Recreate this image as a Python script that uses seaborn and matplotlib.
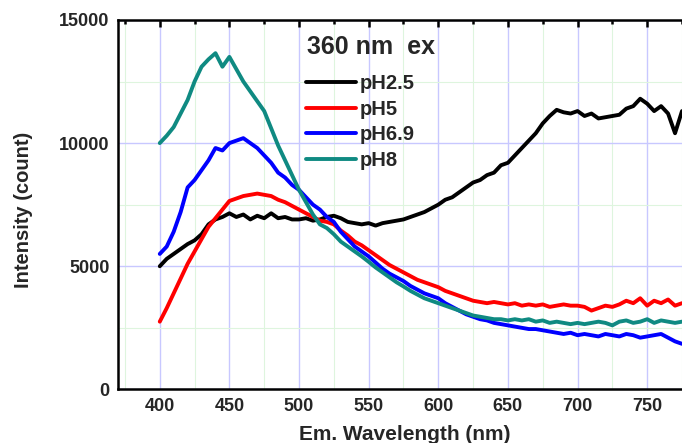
import numpy as np
import pandas as pd
import matplotlib
matplotlib.use("Agg")
import matplotlib.pyplot as plt
from matplotlib.ticker import MultipleLocator
import seaborn as sns

wavelength = list(range(400, 780, 5))

ph25 = [5000, 5300, 5500, 5700, 5900, 6050, 6300, 6700, 6900, 7000,
        7150, 7000, 7100, 6900, 7050, 6950, 7150, 6950, 7000, 6900,
        6900, 6950, 6850, 6900, 7000, 7050, 6950, 6800, 6750, 6700,
        6750, 6650, 6750, 6800, 6850, 6900, 7000, 7100, 7200, 7350,
        7500, 7700, 7800, 8000, 8200, 8400, 8500, 8700, 8800, 9100,
        9200, 9500, 9800, 10100, 10400, 10800, 11100, 11350, 11250, 11200,
        11300, 11100, 11200, 11000, 11050, 11100, 11150, 11400, 11500, 11800,
        11600, 11300, 11500, 11200, 10400, 11300]

ph5 = [2750, 3300, 3900, 4500, 5100, 5600, 6100, 6600, 6950, 7300,
       7650, 7750, 7850, 7900, 7950, 7900, 7850, 7700, 7600, 7450,
       7300, 7150, 7000, 6850, 6800, 6700, 6450, 6250, 6000, 5850,
       5650, 5450, 5250, 5050, 4900, 4750, 4600, 4450, 4350, 4250,
       4150, 4000, 3900, 3800, 3700, 3600, 3550, 3500, 3550, 3500,
       3450, 3500, 3400, 3450, 3400, 3450, 3350, 3400, 3450, 3400,
       3400, 3350, 3200, 3300, 3400, 3350, 3450, 3600, 3500, 3700,
       3400, 3600, 3500, 3650, 3400, 3500]

ph69 = [5500, 5800, 6400, 7200, 8200, 8500, 8900, 9300, 9800, 9700,
        10000, 10100, 10200, 10000, 9800, 9500, 9200, 8800, 8600, 8300,
        8100, 7800, 7500, 7300, 7000, 6800, 6400, 6100, 5800, 5600,
        5400, 5150, 4900, 4700, 4550, 4400, 4200, 4050, 3900, 3800,
        3700, 3500, 3350, 3200, 3050, 2950, 2850, 2800, 2700, 2650,
        2600, 2550, 2500, 2450, 2450, 2400, 2350, 2300, 2250, 2300,
        2200, 2250, 2200, 2150, 2250, 2200, 2150, 2250, 2200, 2100,
        2150, 2200, 2250, 2100, 1950, 1850]

ph8 = [10000, 10300, 10650, 11200, 11750, 12500, 13100, 13400, 13650, 13100,
       13500, 13000, 12500, 12100, 11700, 11300, 10600, 9900, 9300, 8700,
       8100, 7600, 7100, 6700, 6550, 6300, 6000, 5800, 5600, 5400,
       5180, 4950, 4750, 4550, 4350, 4180, 4000, 3850, 3700, 3600,
       3500, 3400, 3300, 3200, 3100, 3000, 2950, 2900, 2850, 2850,
       2800, 2850, 2800, 2850, 2750, 2800, 2700, 2750, 2700, 2650,
       2700, 2650, 2700, 2750, 2700, 2600, 2750, 2800, 2700, 2750,
       2850, 2700, 2800, 2750, 2700, 2750]

series_names = ["pH2.5", "pH5", "pH6.9", "pH8"]
series_values = [ph25, ph5, ph69, ph8]
colors = ["#000000", "#ff0000", "#0000ff", "#0f8a82"]
x_ticks = [400, 450, 500, 550, 600, 650, 700, 750]
y_ticks = [0, 5000, 10000, 15000]

df = pd.concat([pd.DataFrame({"wl": wavelength, "I": v, "s": n})
                for n, v in zip(series_names, series_values)], ignore_index=True)

sns.set_style("white")
plt.rcParams["font.family"] = ["Liberation Sans", "DejaVu Sans"]
plt.rcParams["font.weight"] = "bold"

fig = plt.figure(figsize=(6.82, 4.43), dpi=100)
ax = fig.add_axes([0.173, 0.121, 0.827, 0.834])

sns.lineplot(data=df, x="wl", y="I", hue="s", palette=dict(zip(series_names, colors)),
             hue_order=series_names, linewidth=2.8, ax=ax, legend=True)

ax.set_xlim(370, 775)
ax.set_ylim(0, 15000)
ax.set_xticks(x_ticks)
ax.set_yticks(y_ticks)
ax.xaxis.set_minor_locator(MultipleLocator(25))
ax.yaxis.set_minor_locator(MultipleLocator(2500))

ax.grid(True, which="major", color="#c8c8ff", linewidth=1.0)
ax.grid(True, which="minor", color="#def5de", linewidth=0.8)
ax.set_axisbelow(True)

for side in ["left", "bottom", "top"]:
    ax.spines[side].set_linewidth(1.8)
    ax.spines[side].set_color("black")
ax.spines["right"].set_visible(False)

ax.tick_params(which="both", direction="in", top=True, right=False, width=1.8, color="black")
ax.tick_params(which="major", length=5, labelsize=13, pad=6)
ax.tick_params(which="minor", length=3)
for lab in ax.get_xticklabels() + ax.get_yticklabels():
    lab.set_fontweight("bold")

ax.set_xlabel("Em. Wavelength (nm)", fontsize=15, fontweight="bold")
ax.set_ylabel("Intensity (count)", fontsize=14.5, fontweight="bold")
ax.xaxis.set_label_coords(0.509, -0.121)
ax.xaxis.label.set_va("center")
ax.yaxis.set_label_coords(-0.168, 0.487)
ax.yaxis.label.set_va("center")

ax.text(0.335, 0.926, "360 nm  ex", transform=ax.transAxes, fontsize=18,
        fontweight="bold", va="center", ha="left")

leg = ax.legend(title=None, frameon=False, loc="upper left",
                bbox_to_anchor=(0.333, 0.853), fontsize=14.5, handlelength=2.5,
                handletextpad=0.2, labelspacing=0.32, borderaxespad=0, borderpad=0)
for t in leg.get_texts():
    t.set_fontweight("bold")
for h in leg.get_lines():
    h.set_linewidth(2.8)

fig.savefig("out.png", dpi=100)
